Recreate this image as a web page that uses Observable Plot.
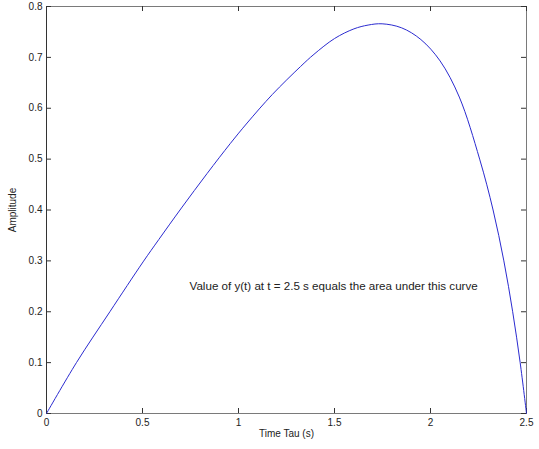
<!DOCTYPE html>
<html>
<head>
<meta charset="utf-8">
<script src="https://cdn.jsdelivr.net/npm/d3@7"></script>
<script src="https://cdn.jsdelivr.net/npm/@observablehq/plot@0.6"></script>
<style>
  html, body { margin: 0; padding: 0; background: #ffffff; }
  #chart svg { display: block; }
</style>
</head>
<body>
<div id="chart"></div>
<script>
// Data
const tau = [0, 0.156, 0.33, 0.503, 0.585, 0.703, 0.837, 0.958, 1.045, 1.176, 1.323, 1.393, 1.5, 1.601, 1.675, 1.748, 1.85, 1.95, 2.05, 2.15, 2.256, 2.326, 2.382, 2.428, 2.467, 2.5];
const amplitude = [0, 0.1, 0.2, 0.298, 0.342, 0.404, 0.472, 0.531, 0.571, 0.627, 0.682, 0.706, 0.737, 0.756, 0.7635, 0.766, 0.758, 0.735, 0.693, 0.622, 0.5, 0.4, 0.3, 0.2, 0.1, 0];
const xTicks = [0, 0.5, 1, 1.5, 2, 2.5];
const yTicks = [0, 0.1, 0.2, 0.3, 0.4, 0.5, 0.6, 0.7, 0.8];
const xLabel = "Time Tau (s)";
const yLabel = "Amplitude";
const annotationText = ["Value of y(t) at t = 2.5 s equals the area under this curve"];
const annotationAt = {tau: 0.745, amplitude: 0.25};

const rows = tau.map((t, i) => ({tau: t, amplitude: amplitude[i]}));

const chart = Plot.plot({
  width: 539,
  height: 449,
  marginLeft: 46,
  marginRight: 13,
  marginTop: 6,
  marginBottom: 36,
  style: {fontFamily: "Arial, 'Liberation Sans', sans-serif", fontSize: "10px", background: "#ffffff", color: "#222"},
  x: {domain: [0, 2.5]},
  y: {domain: [0, 0.8]},
  marks: [
    Plot.frame({stroke: "#7a7a7a"}),
    Plot.ruleX([0], {stroke: "#333"}),
    Plot.tickX(xTicks, {x: d => d, insetTop: 402, stroke: "#333"}),
    Plot.tickX(xTicks, {x: d => d, insetBottom: 402, stroke: "#333"}),
    Plot.tickY(yTicks, {y: d => d, insetRight: 475, stroke: "#333"}),
    Plot.tickY(yTicks, {y: d => d, insetLeft: 475, stroke: "#333"}),
    Plot.axisX(xTicks, {tickSize: 0, tickPadding: 5, tickFormat: d => String(d), label: xLabel, labelAnchor: "center", labelOffset: 23, labelArrow: "none", fill: "#222"}),
    Plot.axisY(yTicks, {tickSize: 0, tickPadding: 4, tickFormat: d => String(d), label: yLabel, labelAnchor: "center", labelOffset: 38, labelArrow: "none", fill: "#222"}),
    Plot.line(rows, {x: "tau", y: "amplitude", stroke: "#2b2bd0", strokeWidth: 1, curve: "catmull-rom"}),
    Plot.text(annotationText, {x: annotationAt.tau, y: annotationAt.amplitude, textAnchor: "start", fill: "#222", fontSize: 11.6})
  ]
});
document.getElementById("chart").appendChild(chart);
</script>
</body>
</html>
